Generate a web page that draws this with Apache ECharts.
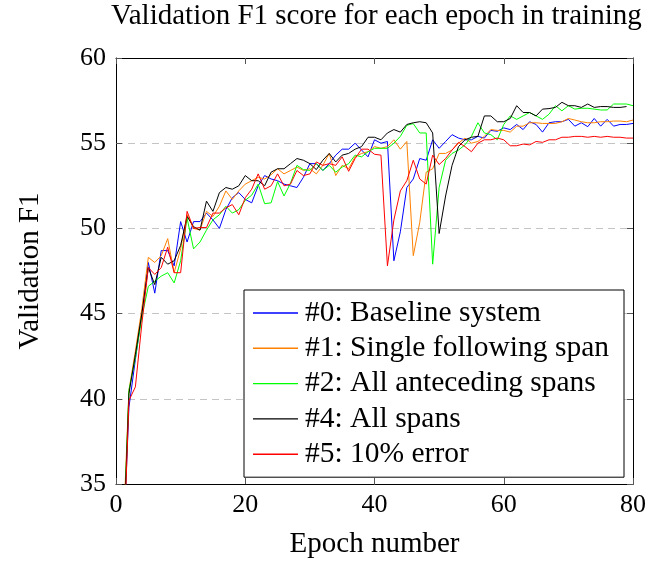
<!DOCTYPE html>
<html><head><meta charset="utf-8">
<script src="https://cdn.jsdelivr.net/npm/echarts@6/dist/echarts.min.js"></script>
<style>html,body{margin:0;padding:0;background:#fff}#c{width:649px;height:564px}</style>
</head><body><div id="c"></div>
<script>
const titleText = 'Validation F1 score for each epoch in training';
const seriesNames = ['#0: Baseline system', '#1: Single following span', '#2: All anteceding spans', '#4: All spans', '#5: 10% error'];
const seriesColors = ['#0000ff', '#ff8000', '#00ff00', '#000000', '#ff0000'];
const xTicks = [0, 20, 40, 60, 80];
const yTicks = [35, 40, 45, 50, 55, 60];

const baseline = [30, 39.5, 42.3, 45.0, 48.0, 46.2, 48.7, 48.7, 47.8, 50.4,
  49.2, 50.4, 50.4, 50.9, 50.5, 50.0, 51.1, 51.8, 52.1, 51.7,
  51.5, 52.5, 53.1, 52.9, 52.8, 52.6, 52.5, 52.4, 53.0, 53.8,
  53.8, 53.4, 53.8, 54.3, 54.65, 54.65, 55.0, 54.6, 54.2, 55.2,
  55.0, 55.1, 48.1, 49.8, 52.4, 52.9, 54.1, 54.0, 55.2, 54.7,
  55.1, 55.5, 55.3, 55.2, 55.2, 55.4, 55.3, 55.75, 55.7, 55.9,
  55.8, 56.1, 55.8, 56.26, 56.1, 55.65, 56.2, 56.26, 56.26, 56.4,
  56.0, 56.2, 55.97, 56.45, 56.0, 56.4, 56.0, 56.1, 56.1, 56.16];
const singleFollowing = [31, 40.5, 42.8, 45.3, 48.3, 48.0, 48.4, 49.4, 47.4, 48.8,
  50.8, 50.0, 49.9, 51.0, 50.7, 51.3, 52.2, 51.7, 52.2, 52.6,
  52.8, 53.0, 52.9, 53.15, 53.5, 53.2, 53.4, 53.6, 53.4, 53.5,
  53.2, 53.7, 54.4, 53.1, 53.7, 53.5, 54.2, 54.4, 54.5, 54.8,
  54.7, 54.8, 55.2, 54.65, 55.1, 48.4, 50.35, 53.3, 53.5, 54.4,
  54.4, 54.6, 55.0, 55.3, 55.0, 55.1, 55.4, 55.8, 55.75, 55.75,
  55.65, 56.0, 56.0, 56.2, 56.2, 56.16, 56.16, 56.16, 56.26, 56.45,
  56.36, 56.26, 56.2, 56.2, 56.26, 56.26, 56.3, 56.3, 56.26, 56.36];
const allAnteceding = [30, 40.5, 42.4, 44.8, 46.6, 46.9, 47.2, 47.4, 46.8, 48.1,
  50.6, 48.8, 49.2, 49.9, 50.5, 50.8, 51.3, 50.9, 51.1, 51.65,
  51.95, 52.6, 51.45, 51.5, 52.75, 51.9, 52.65, 53.7, 53.45, 53.4,
  53.8, 53.4, 53.7, 53.3, 53.6, 53.8, 54.3, 54.2, 54.5, 54.7,
  54.7, 54.7, 55.0, 55.4, 56.05, 56.15, 55.6, 55.6, 47.9, 52.4,
  54.0, 54.4, 54.6, 54.9, 55.4, 56.2, 55.6, 55.5, 55.2, 56.1,
  56.6, 56.4, 56.6, 56.8, 56.6, 56.4, 56.7, 57.2, 56.9, 57.2,
  57.0, 57.05, 57.05, 57.0, 56.95, 56.95, 57.3, 57.3, 57.3, 57.2];
const allSpans = [30, 40.3, 42.6, 45.0, 47.7, 46.7, 48.3, 47.9, 48.1, 49.0,
  50.7, 50.1, 49.9, 51.6, 51.0, 52.1, 52.4, 52.3, 52.5, 53.1,
  52.8, 52.8, 52.5, 53.3, 53.5, 53.5, 53.8, 54.1, 54.0, 53.8,
  53.45, 54.0, 54.4, 53.9, 54.3, 54.4, 54.65, 54.8, 55.35, 55.35,
  55.2, 55.6, 55.8, 55.65, 56.1, 56.2, 56.26, 56.2, 55.6, 49.7,
  51.9, 53.7, 54.8, 55.2, 55.35, 55.4, 56.6, 56.6, 56.26, 56.26,
  56.45, 57.2, 56.8, 56.8, 56.6, 57.0, 57.03, 57.1, 57.4, 57.2,
  57.2, 57.1, 57.3, 57.1, 57.15, 57.15, 57.1, 57.1, 57.15];
const tenPctError = [29, 39.9, 40.7, 44.4, 47.7, 47.3, 47.7, 48.9, 47.4, 47.4,
  51.0, 50.0, 50.05, 50.05, 50.9, 50.9, 51.2, 51.4, 50.8, 51.8,
  52.3, 53.2, 52.3, 52.5, 53.2, 52.5, 52.6, 53.4, 53.1, 53.2,
  53.9, 53.7, 53.8, 53.7, 54.2, 53.35, 54.1, 54.65, 54.65, 54.35,
  54.3, 47.8, 50.5, 52.2, 52.8, 54.0, 52.9, 52.6, 54.3, 53.75,
  54.1, 54.6, 55.05, 54.8, 54.5, 55.0, 55.2, 55.2, 55.3, 55.2,
  54.85, 54.85, 54.95, 54.9, 55.1, 55.05, 55.2, 55.2, 55.35, 55.35,
  55.4, 55.4, 55.35, 55.4, 55.35, 55.4, 55.35, 55.35, 55.3, 55.3];

const allValues = [baseline, singleFollowing, allAnteceding, allSpans, tenPctError];
const FONT = 'Liberation Serif';

const chart = echarts.init(document.getElementById('c'), null, {renderer: 'canvas'});
const series = allValues.map((vals, i) => ({
  name: seriesNames[i],
  type: 'line',
  data: vals.map((v, k) => [k + 1, v]),
  symbol: 'none',
  showSymbol: false,
  clip: true,
  lineStyle: {color: seriesColors[i], width: 1},
  itemStyle: {color: seriesColors[i]},
  animation: false
}));

const tickStyle = {show: true, inside: true, length: 6, lineStyle: {color: '#555', width: 1}};
const lineAxis = {show: true, onZero: false, lineStyle: {color: '#000', width: 1}};

chart.setOption({
  backgroundColor: '#fff',
  animation: false,
  title: {
    text: titleText, left: 111, top: 2, padding: 0,
    textStyle: {fontFamily: FONT, fontSize: 29, fontWeight: 'normal', color: '#000'}
  },
  grid: {left: 116, right: 13, top: 58, bottom: 76},
  legend: {
    orient: 'vertical', left: 244, top: 290,
    padding: [8, 15, 8, 9],
    icon: 'rect',
    itemWidth: 45, itemHeight: 1.4, itemGap: 5.3,
    borderColor: '#000', borderWidth: 1, backgroundColor: '#fff',
    textStyle: {fontFamily: FONT, fontSize: 29.5, lineHeight: 29, color: '#000', padding: [0, 0, 0, 2]},
    data: seriesNames
  },
  xAxis: [{
    type: 'value', min: xTicks[0], max: xTicks[xTicks.length - 1], interval: 20,
    position: 'bottom',
    axisLine: lineAxis, axisTick: tickStyle,
    axisLabel: {fontFamily: FONT, fontSize: 26, color: '#000', margin: 8},
    splitLine: {show: false},
    name: 'Epoch number', nameLocation: 'middle', nameGap: 46,
    nameTextStyle: {fontFamily: FONT, fontSize: 29, color: '#000'}
  }, {
    type: 'value', min: xTicks[0], max: xTicks[xTicks.length - 1], interval: 20,
    position: 'top',
    axisLine: lineAxis, axisTick: tickStyle,
    axisLabel: {show: false}, splitLine: {show: false}
  }],
  yAxis: [{
    type: 'value', min: yTicks[0], max: yTicks[yTicks.length - 1], interval: 5,
    position: 'left',
    axisLine: lineAxis, axisTick: tickStyle,
    axisLabel: {fontFamily: FONT, fontSize: 26, color: '#000', margin: 10},
    splitLine: {show: true, showMinLine: false, showMaxLine: false,
      lineStyle: {color: '#c4c4c4', width: 1, type: [7, 5]}},
    name: 'Validation F1', nameLocation: 'middle', nameGap: 71,
    nameTextStyle: {fontFamily: FONT, fontSize: 29, color: '#000'}
  }, {
    type: 'value', min: yTicks[0], max: yTicks[yTicks.length - 1], interval: 5,
    position: 'right',
    axisLine: lineAxis, axisTick: tickStyle,
    axisLabel: {show: false}, splitLine: {show: false}
  }],
  series: series
});
</script>
</body></html>
